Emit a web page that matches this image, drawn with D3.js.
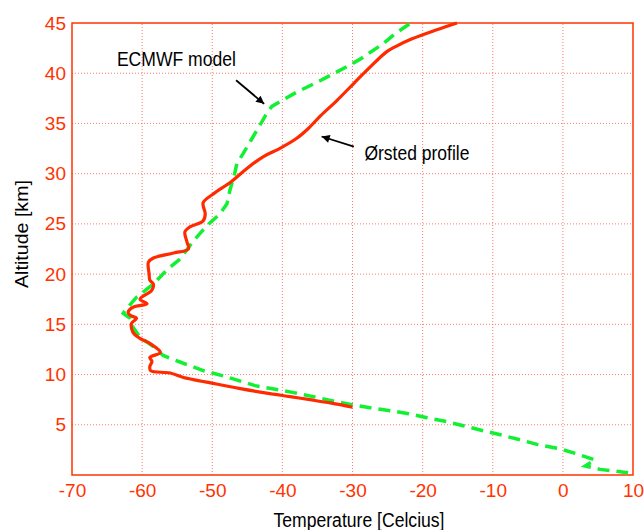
<!DOCTYPE html>
<html>
<head>
<meta charset="utf-8">
<script src="https://cdn.jsdelivr.net/npm/d3@7"></script>
<style>
  html, body { margin: 0; padding: 0; background: #fff; }
  svg { display: block; font-family: "Liberation Sans", Arial, Helvetica, sans-serif; }
</style>
</head>
<body>
<svg id="chart" width="644" height="530"></svg>
<script>
// ---- data ----
const xTicks = [-70, -60, -50, -40, -30, -20, -10, 0, 10];
const yTicks = [5, 10, 15, 20, 25, 30, 35, 40, 45];

const orstedTemp = [-15.1, -18.1, -21.6, -24.0, -25.2, -27.5, -29.8, -32.2, -34.5, -36.3, -38.0, -40.4, -42.7, -45.1, -47.3,
  -49.8, -51.3, -51.0, -51.3, -53.2, -53.9, -53.6, -53.4, -55.5, -58.4, -59.1, -59.0, -58.9, -58.4, -58.6,
  -60.3, -59.3, -61.3, -62.0, -61.7, -60.8, -61.5, -61.3, -60.3, -58.9, -57.4, -58.9, -58.6, -58.9, -58.8,
  -56.0, -54.1, -50.8, -46.0, -41.8, -38.9, -35.6, -33.0, -30.0];
const orstedAlt = [45.0, 44.3, 43.4, 42.6, 42.1, 40.6, 39.0, 37.3, 35.8, 34.5, 33.5, 32.5, 31.7, 30.5, 29.2,
  28.0, 27.1, 26.0, 25.3, 24.7, 24.2, 23.2, 22.5, 22.1, 21.6, 21.2, 20.0, 19.4, 19.0, 18.4,
  17.5, 17.05, 16.7, 16.2, 15.9, 15.6, 15.1, 14.2, 13.6, 13.1, 12.2, 11.7, 11.3, 10.8, 10.4,
  10.15, 9.7, 9.25, 8.6, 8.1, 7.8, 7.45, 7.15, 6.75];

const ecmwfTemp = [-21.9, -24.0, -25.7, -28.7, -30.4, -34.5, -38.0, -41.5, -42.4, -43.3, -44.5, -45.6, -46.5, -46.8,
  -47.5, -47.9, -48.9, -50.8, -52.7, -54.6, -56.5, -58.4, -60.8, -62.4, -62.7, -61.7, -61.3, -60.3, -58.6,
  -57.0, -54.6, -51.3, -48.6, -43.9, -38.4, -35.6, -33.0, -30.1, -27.5, -24.6, -22.0, -19.4, -16.5, -14.2,
  -11.3, -8.9, -6.1, -3.7, -0.4, 2.0, 4.6, 3.2, 5.3, 9.3];
const ecmwfAlt = [44.9, 43.9, 42.9, 41.5, 40.8, 39.3, 38.1, 36.7, 35.8, 34.7, 33.3, 32.0, 31.0, 30.0,
  28.3, 27.0, 26.0, 24.8, 23.3, 21.5, 20.4, 19.0, 17.7, 16.4, 16.1, 15.6, 14.7, 13.7, 12.9,
  11.9, 11.25, 10.4, 9.9, 8.9, 8.2, 7.8, 7.4, 7.0, 6.7, 6.4, 6.1, 5.7, 5.3, 4.9,
  4.4, 4.0, 3.5, 3.05, 2.6, 2.1, 1.5, 0.9, 0.56, 0.23];

// annotations in data units
const annotations = [
  { text: "ECMWF model", t: -63.6, a: 40.7, len: 119, from: [-46.6, 39.3], to: [-42.6, 36.95] },
  { text: "Ørsted profile", t: -28.3, a: 31.4, len: 105, from: [-29.8, 32.7], to: [-34.4, 33.7] }
];

// ---- chart ----
const svg = d3.select("#chart");
const x = d3.scaleLinear().domain([-70, 10]).range([72, 633]);
const y = d3.scaleLinear().domain([0, 45]).range([475, 23]);
const axisRed = "#ff3300";
const gridRed = "#ff5a4a";

// grid
const grid = svg.append("g");
grid.selectAll("line.v").data(xTicks.slice(1, -1)).join("line")
  .attr("x1", d => x(d)).attr("x2", d => x(d))
  .attr("y1", y(0)).attr("y2", y(45))
  .attr("stroke", gridRed).attr("stroke-width", 1).attr("stroke-dasharray", "1,2").attr("opacity", 0.8);
grid.selectAll("line.h").data(yTicks.slice(0, -1)).join("line")
  .attr("y1", d => y(d)).attr("y2", d => y(d))
  .attr("x1", x(-70)).attr("x2", x(10))
  .attr("stroke", gridRed).attr("stroke-width", 1).attr("stroke-dasharray", "1,2").attr("opacity", 0.8);

// axes (labels)
const xAxis = svg.append("g").attr("transform", `translate(0,${y(0)})`)
  .call(d3.axisBottom(x).tickValues(xTicks).tickSize(0).tickPadding(9).tickFormat(d3.format("d")));
const yAxis = svg.append("g").attr("transform", `translate(${x(-70)},0)`)
  .call(d3.axisLeft(y).tickValues(yTicks).tickSize(0).tickPadding(6).tickFormat(d3.format("d")));
[xAxis, yAxis].forEach(g => {
  g.select(".domain").remove();
  g.selectAll("text").attr("fill", axisRed).attr("font-size", 19)
    .attr("font-family", '"Liberation Sans", Arial, sans-serif');
});
xAxis.selectAll("text").attr("dy", "0.71em").text(d => d < 0 ? "-" + Math.abs(d) : d);

// frame
svg.append("rect")
  .attr("x", x(-70)).attr("y", y(45))
  .attr("width", x(10) - x(-70)).attr("height", y(0) - y(45))
  .attr("fill", "none").attr("stroke", axisRed).attr("stroke-width", 1.5);

// lines
const ecmwf = ecmwfTemp.map((t, i) => [t, ecmwfAlt[i]]);
const orsted = orstedTemp.map((t, i) => [t, orstedAlt[i]]);

svg.append("path").datum(ecmwf)
  .attr("d", d3.line().x(d => x(d[0])).y(d => y(d[1])).curve(d3.curveLinear))
  .attr("fill", "none")
  .attr("stroke", "#11f033").attr("stroke-width", 3.5)
  .attr("stroke-dasharray", "12,7");
svg.append("path").datum(orsted)
  .attr("d", d3.line().x(d => x(d[0])).y(d => y(d[1])).curve(d3.curveCatmullRom.alpha(0.5)))
  .attr("fill", "none")
  .attr("stroke", "#ff2a00").attr("stroke-width", 3.2)
  .attr("stroke-linejoin", "round");

// arrows
svg.append("defs").append("marker")
  .attr("id", "arrow").attr("viewBox", "0 0 10 10")
  .attr("refX", 10).attr("refY", 5)
  .attr("markerWidth", 11).attr("markerHeight", 8)
  .attr("markerUnits", "userSpaceOnUse")
  .attr("orient", "auto")
  .append("path").attr("d", "M0,0 L10,5 L0,10 Z").attr("fill", "#000");

const ann = svg.append("g");
annotations.forEach(a => {
  ann.append("text").attr("x", x(a.t)).attr("y", y(a.a))
    .attr("font-size", 19.5).attr("fill", "#000")
    .attr("textLength", a.len).attr("lengthAdjust", "spacingAndGlyphs")
    .text(a.text);
  ann.append("line")
    .attr("x1", x(a.from[0])).attr("y1", y(a.from[1]))
    .attr("x2", x(a.to[0])).attr("y2", y(a.to[1]))
    .attr("stroke", "#000").attr("stroke-width", 1.8)
    .attr("marker-end", "url(#arrow)");
});

// axis titles
svg.append("text")
  .attr("transform", `translate(28,234) rotate(-90)`)
  .attr("text-anchor", "middle").attr("font-size", 17.5).attr("fill", "#000")
  .attr("textLength", 108).attr("lengthAdjust", "spacingAndGlyphs")
  .text("Altitude [km]");
svg.append("text")
  .attr("x", 359).attr("y", 527)
  .attr("text-anchor", "middle").attr("font-size", 20).attr("fill", "#000")
  .attr("textLength", 171).attr("lengthAdjust", "spacingAndGlyphs")
  .text("Temperature [Celcius]");
</script>
</body>
</html>
